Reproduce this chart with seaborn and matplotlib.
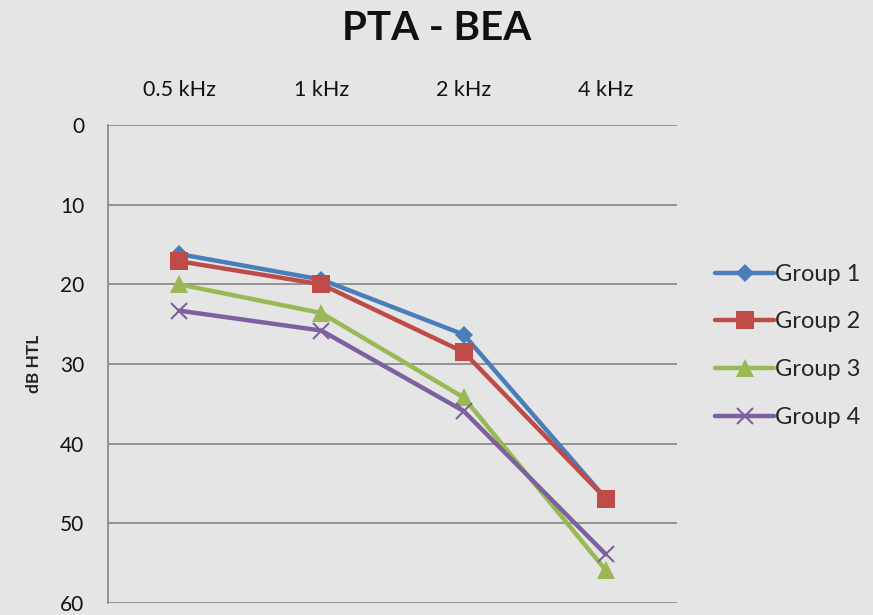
import matplotlib
matplotlib.use("Agg")
import matplotlib.pyplot as plt
import seaborn as sns
import pandas as pd

frequencies = ["0.5 kHz", "1 kHz", "2 kHz", "4 kHz"]
group1 = [16.2, 19.4, 26.3, 46.9]
group2 = [17.1, 20.0, 28.5, 46.9]
group3 = [20.0, 23.6, 34.2, 55.9]
group4 = [23.3, 25.8, 35.9, 53.9]
series_names = ["Group 1", "Group 2", "Group 3", "Group 4"]
y_ticks = [0, 10, 20, 30, 40, 50, 60]

rows = []
for name, vals in zip(series_names, [group1, group2, group3, group4]):
    for i, (f, v) in enumerate(zip(frequencies, vals)):
        rows.append({"pos": i, "freq": f, "value": v, "group": name})
df = pd.DataFrame(rows)

sns.set_theme(style="white")
plt.rcParams["font.family"] = ["Lato", "DejaVu Sans"]

bg = "#e5e5e5"
fig = plt.figure(figsize=(8.73, 6.15), dpi=100, facecolor=bg)
ax = fig.add_axes([108/873, 1-603/615, (677-108)/873, (603-125)/615])
ax.set_facecolor(bg)

palette = {"Group 1": "#4A7EBB", "Group 2": "#BE4B48", "Group 3": "#98B954", "Group 4": "#7D60A0"}
markers = {"Group 1": "D", "Group 2": "s", "Group 3": "^", "Group 4": "x"}
sizes = {"Group 1": 9, "Group 2": 13, "Group 3": 13, "Group 4": 12}

for name in series_names:
    sub = df[df["group"] == name]
    sns.lineplot(data=sub, x="pos", y="value", ax=ax, color=palette[name],
                 marker=markers[name], markersize=sizes[name], linewidth=3.2,
                 markeredgewidth=1.5 if name == "Group 4" else 0,
                 markeredgecolor=palette[name], label=name)

ax.set_xlim(-0.5, 3.5)
ax.set_ylim(60, 0)
ax.set_yticks(y_ticks)
ax.set_xticks(range(len(frequencies)))
ax.set_xticklabels(frequencies)
ax.xaxis.tick_top()
ax.tick_params(axis="x", length=0, pad=18, labelsize=15.5, colors="#111111")
ax.tick_params(axis="y", length=0, pad=17, labelsize=15, colors="#111111")
ax.yaxis.grid(True, color="#8c8c8c", linewidth=1.3)
ax.set_axisbelow(True)
for s in ["top", "right", "bottom"]:
    ax.spines[s].set_visible(False)
ax.spines["left"].set_color("#8c8c8c")
ax.spines["left"].set_linewidth(1.3)
ax.set_xlabel("")
ax.set_ylabel("dB HTL", fontsize=12.5, fontweight="bold", labelpad=13)

fig.text(437/873, 1-28/615, "PTA - BEA", ha="center", va="center",
         fontsize=29, fontweight="bold", color="#111111")

leg = ax.legend(loc="center left", bbox_to_anchor=(1.067, 0.538), frameon=False,
                fontsize=17, handlelength=2.5, handletextpad=0.05, labelspacing=1.13,
                borderaxespad=0, borderpad=0)

fig.savefig("out.png", dpi=100, facecolor=bg)
